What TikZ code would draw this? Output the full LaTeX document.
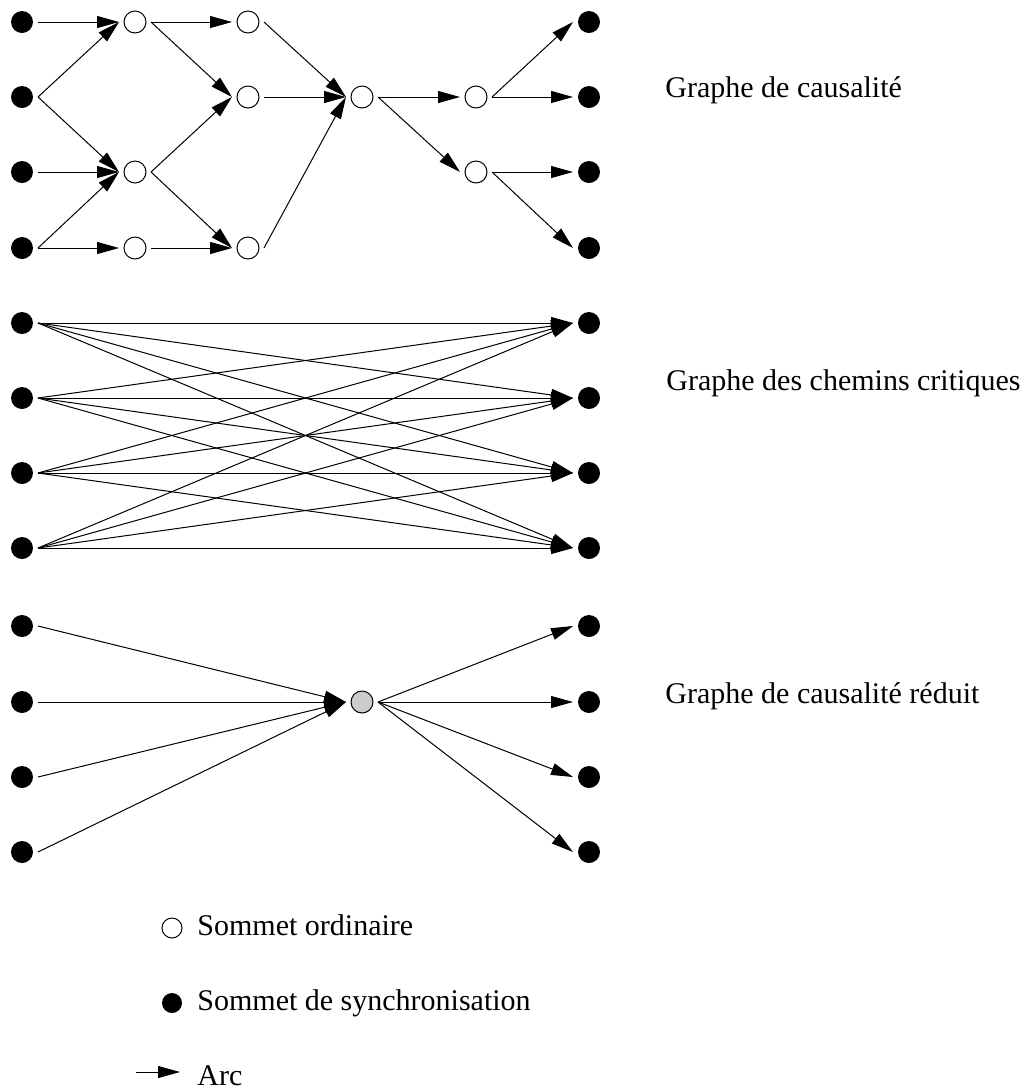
\documentclass[tikz,border=0pt]{standalone}
\usepackage{fontspec}
\setmainfont{Liberation Serif}
\usepackage{tikz}
\usetikzlibrary{arrows.meta,positioning}
\definecolor{cReduit}{HTML}{CCCCCC}
\tikzset{
  sync/.style ={circle, fill=black, minimum size=11pt, inner sep=0pt, outer sep=2.5pt},
  ord/.style  ={circle, draw, line width=0.5pt, fill=white, minimum size=11pt, inner sep=0pt, outer sep=2.5pt},
  redu/.style ={ord, fill=cReduit},
  arrow/.style={-{Triangle[length=11pt, width=6pt]}, line width=0.5pt},
  lbl/.style  ={anchor=base west, inner sep=0pt},
}

\begin{document}
\begin{tikzpicture}[x=0.5pt, y=-0.5pt, font=\fontsize{15}{18}\selectfont]
    \useasboundingbox (0,0) rectangle (1025,1089);
    % graphe de causalite
    \node[sync] (cl1) at (22,22) {};  \node[sync] (cl2) at (22,97) {};
    \node[sync] (cl3) at (22,172) {}; \node[sync] (cl4) at (22,248) {};
    \node[ord] (o1) at (135,22) {}; \node[ord] (o2) at (135,172) {}; \node[ord] (o3) at (135,248) {};
    \node[ord] (o4) at (248,22) {}; \node[ord] (o5) at (248,97) {};  \node[ord] (o6) at (248,248) {};
    \node[ord] (o7) at (362,97) {};
    \node[ord] (o8) at (476,97) {}; \node[ord] (o9) at (476,172) {};
    \node[sync] (cr1) at (589,22) {};  \node[sync] (cr2) at (589,97) {};
    \node[sync] (cr3) at (589,172) {}; \node[sync] (cr4) at (589,248) {};
    \draw[arrow](cl1.east)--(o1.west); \draw[arrow](cl2.east)--(o1.west); \draw[arrow](cl2.east)--(o2.west);
    \draw[arrow](cl3.east)--(o2.west); \draw[arrow](cl4.east)--(o2.west); \draw[arrow](cl4.east)--(o3.west);
    \draw[arrow](o1.east)--(o4.west); \draw[arrow](o1.east)--(o5.west); \draw[arrow](o2.east)--(o5.west);
    \draw[arrow](o2.east)--(o6.west); \draw[arrow](o3.east)--(o6.west);
    \draw[arrow](o4.east)--(o7.west); \draw[arrow](o5.east)--(o7.west); \draw[arrow](o6.east)--(o7.west);
    \draw[arrow](o7.east)--(o8.west); \draw[arrow](o7.east)--(o9.west);
    \draw[arrow](o8.east)--(cr1.west); \draw[arrow](o8.east)--(cr2.west);
    \draw[arrow](o9.east)--(cr3.west); \draw[arrow](o9.east)--(cr4.west);
    \node[lbl] (tcaus) at (665,97) {Graphe de causalité};
    % graphe des chemins critiques
    \node[sync] (ml1) at (22,323) {}; \node[sync] (ml2) at (22,398) {};
    \node[sync] (ml3) at (22,473) {}; \node[sync] (ml4) at (22,548) {};
    \node[sync] (mr1) at (589,323) {}; \node[sync] (mr2) at (589,398) {};
    \node[sync] (mr3) at (589,473) {}; \node[sync] (mr4) at (589,548) {};
    \foreach \i in {1,...,4} \foreach \j in {1,...,4} \draw[arrow](ml\i.east)--(mr\j.west);
    \node[lbl] (tcrit) at (666,390) {Graphe des chemins critiques};
    % graphe de causalite reduit
    \node[sync] (rl1) at (22,626) {}; \node[sync] (rl2) at (22,702) {};
    \node[sync] (rl3) at (22,777) {}; \node[sync] (rl4) at (22,852) {};
    \node[redu] (rc) at (362,702) {};
    \node[sync] (rr1) at (589,626) {}; \node[sync] (rr2) at (589,702) {};
    \node[sync] (rr3) at (589,777) {}; \node[sync] (rr4) at (589,852) {};
    \draw[arrow](rl1.east)--(rc.west); \draw[arrow](rl2.east)--(rc.west);
    \draw[arrow](rl3.east)--(rc.west); \draw[arrow](rl4.east)--(rc.west);
    \draw[arrow](rc.east)--(rr1.west); \draw[arrow](rc.east)--(rr2.west);
    \draw[arrow](rc.east)--(rr3.west); \draw[arrow](rc.east)--(rr4.west);
    \node[lbl] (tred) at (665,703) {Graphe de causalité réduit};
    % legende
    \node[ord, minimum size=10pt] (lord) at (172,928) {};
    \node[lbl] (tord) at (197,935) {Sommet ordinaire};
    \node[sync, minimum size=10pt] (lsync) at (172,1003) {};
    \node[lbl] (tsync) at (197,1010) {Sommet de synchronisation};
    \coordinate (arcs) at (136,1072); \coordinate (arce) at (180,1072);
    \draw[arrow](arcs)--(arce);
    \node[lbl] (tarc) at (197,1085) {Arc};
  \end{tikzpicture}
\end{document}
